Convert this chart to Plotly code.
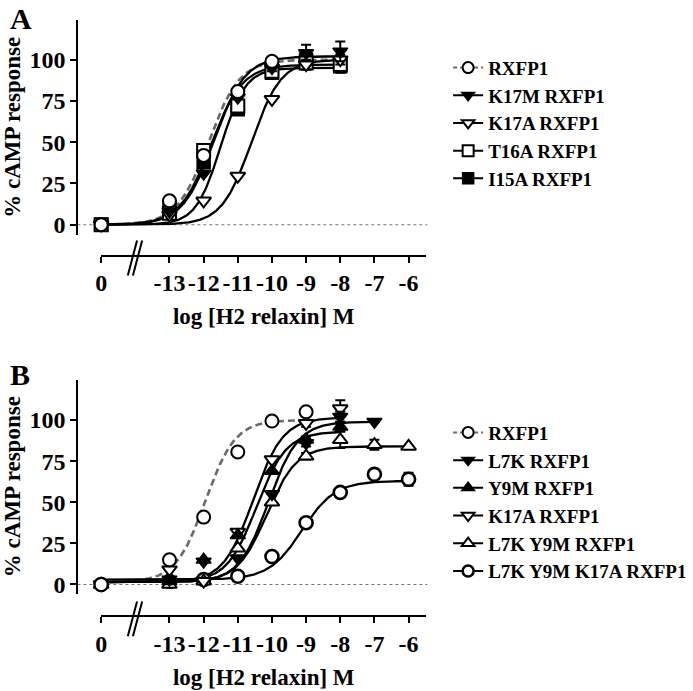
import numpy as np
import plotly.graph_objects as go

W, H = 693, 691
FONT = "Liberation Serif"

# ---------------- data ----------------
# The zero concentration is drawn at log position -15 (left of the axis break)
ZERO_POS = -15
tick_vals = [-15, -13, -12, -11, -10, -9, -8, -7, -6]
tick_text = ["0", "-13", "-12", "-11", "-10", "-9", "-8", "-7", "-6"]
y_tick_vals = [0, 25, 50, 75, 100]

# Panel A
a_names = ["RXFP1", "K17M RXFP1", "K17A RXFP1", "T16A RXFP1", "I15A RXFP1"]
a_x = [ZERO_POS, -13, -12, -11, -10, -9, -8]
a_x_rxfp1 = [ZERO_POS, -13, -12, -11, -10]
a_rxfp1 = [0, 14.5, 42, 80.7, 99]
a_k17m = [0, 8, 31, 77, 95, 104, 105]
a_k17a = [0, 6, 14.5, 29.5, 76, 97, 100]
a_t16a = [0, 7, 45, 72, 93, 98, 97]
a_i15a = [0, 10, 38, 70, 92, 100, 96]
a_err_rxfp1 = [0, 0, 0, 0, 0]
a_err_k17m = [0, 0, 0, 0, 2, 5, 6]
a_err_k17a = [0, 0, 0, 0, 0, 3, 3]
a_err_t16a = [0, 0, 0, 0, 2, 4, 4]
a_err_i15a = [0, 0, 0, 2, 2, 4, 4]
# fitted sigmoid parameters
a_fit_bottom = [0, 0, 0, 0, 0]
a_fit_top = [100, 102, 100, 97, 95]
a_fit_logec50 = [-11.86, -11.7, -10.6, -11.78, -11.5]
a_fit_hill = [0.95, 0.95, 1.0, 0.95, 1.2]
a_fit_end = [-8, -8, -8, -8, -8]

# Panel B
b_names = ["RXFP1", "L7K RXFP1", "Y9M RXFP1", "K17A RXFP1", "L7K Y9M RXFP1",
           "L7K Y9M K17A RXFP1"]
b_x_rxfp1 = [ZERO_POS, -13, -12, -11, -10, -9]
b_rxfp1 = [0, 15, 41, 80.6, 99.4, 105]
b_x_l7k = [ZERO_POS, -13, -12, -11, -10, -9, -8, -7]
b_l7k = [0, 3, 14, 16, 55, 86, 102, 99]
b_x_y9m = [ZERO_POS, -13, -12, -11, -10, -9, -8]
b_y9m = [0, 2, 15, 30, 69, 88, 96]
b_x_k17a = [ZERO_POS, -13, -12, -11, -10, -9, -8]
b_k17a = [0, 9, 2, 32, 76, 98, 107]
b_x_l7ky9m = [ZERO_POS, -13, -12, -11, -10, -9, -8, -7, -6]
b_l7ky9m = [0, 0, 2, 22, 50, 78, 88, 85, 84]
b_x_l7ky9mk17a = [ZERO_POS, -13, -12, -11, -10, -9, -8, -7, -6]
b_l7ky9mk17a = [0, 2, 3, 5, 17, 37.6, 56, 67, 64]
b_err_rxfp1 = [0, 0, 0, 0, 0, 0]
b_err_l7k = [0, 0, 0, 0, 0, 2, 3, 0]
b_err_y9m = [0, 0, 0, 0, 0, 2, 3]
b_err_k17a = [0, 0, 0, 0, 0, 2, 5]
b_err_l7ky9m = [0, 0, 0, 0, 0, 2, 5, 3, 0]
b_err_l7ky9mk17a = [0, 0, 0, 0, 0, 0, 0, 0, 4]
b_fit_bottom = [1.5, 1.5, 1.5, 1.5, 1.5, 3]
b_fit_top = [100, 99, 93, 101.5, 84, 63]
b_fit_logec50 = [-11.95, -10.1, -10.45, -10.55, -10.15, -9.12]
b_fit_hill = [1.0, 1.0, 1.0, 1.0, 1.0, 0.9]
b_fit_end = [-9, -7, -8, -8, -6, -6]

# ---------------- styles ----------------
a_styles = [
    dict(symbol="circle", fill="white", lw=2, dash="dash", color="#6a6a6a"),
    dict(symbol="triangle-down", fill="black", lw=1.5, dash="solid", color="black"),
    dict(symbol="triangle-down", fill="white", lw=2, dash="solid", color="black"),
    dict(symbol="square", fill="white", lw=2, dash="solid", color="black"),
    dict(symbol="square", fill="black", lw=1.5, dash="solid", color="black"),
]
b_styles = [
    dict(symbol="circle", fill="white", lw=2, dash="dash", color="#6a6a6a"),
    dict(symbol="triangle-down", fill="black", lw=1.5, dash="solid", color="black"),
    dict(symbol="triangle-up", fill="black", lw=1.5, dash="solid", color="black"),
    dict(symbol="triangle-down", fill="white", lw=2, dash="solid", color="black"),
    dict(symbol="triangle-up", fill="white", lw=2, dash="solid", color="black"),
    dict(symbol="circle", fill="white", lw=2.6, dash="solid", color="black"),
]


def hill_curve(bottom, top, logec50, hill, x_end):
    xs = np.linspace(ZERO_POS, x_end, 300)
    ys = bottom + (top - bottom) / (1 + 10 ** ((logec50 - xs) * hill))
    return xs, ys


def px_x(p):
    return p / W


def px_y(p):
    return 1 - p / H


fig = go.Figure()

panels = [
    dict(names=a_names, xs=[a_x_rxfp1, a_x, a_x, a_x, a_x],
         vals=[a_rxfp1, a_k17m, a_k17a, a_t16a, a_i15a],
         errs=[a_err_rxfp1, a_err_k17m, a_err_k17a, a_err_t16a, a_err_i15a],
         fits=list(zip(a_fit_bottom, a_fit_top, a_fit_logec50, a_fit_hill, a_fit_end)),
         styles=a_styles, xa="x", ya="y", legend="legend"),
    dict(names=b_names,
         xs=[b_x_rxfp1, b_x_l7k, b_x_y9m, b_x_k17a, b_x_l7ky9m, b_x_l7ky9mk17a],
         vals=[b_rxfp1, b_l7k, b_y9m, b_k17a, b_l7ky9m, b_l7ky9mk17a],
         errs=[b_err_rxfp1, b_err_l7k, b_err_y9m, b_err_k17a, b_err_l7ky9m, b_err_l7ky9mk17a],
         fits=list(zip(b_fit_bottom, b_fit_top, b_fit_logec50, b_fit_hill, b_fit_end)),
         styles=b_styles, xa="x2", ya="y2", legend="legend2"),
]

for p in panels:
    n = len(p["names"])
    # fitted curves
    for i in range(n):
        st = p["styles"][i]
        cx, cy = hill_curve(*p["fits"][i])
        dashed = st["dash"] == "dash"
        fig.add_trace(go.Scatter(
            x=cx, y=cy, mode="lines", xaxis=p["xa"], yaxis=p["ya"], showlegend=False,
            line=dict(color=st["color"], width=2.6 if dashed else 2.3,
                      dash="7px,4px" if dashed else "solid"),
            hoverinfo="skip", cliponaxis=False))
    # data points (reverse order so RXFP1 sits on top)
    for i in reversed(range(n)):
        st = p["styles"][i]
        fig.add_trace(go.Scatter(
            x=p["xs"][i], y=p["vals"][i], mode="markers", xaxis=p["xa"], yaxis=p["ya"],
            showlegend=False, name=p["names"][i], cliponaxis=False,
            error_y=dict(type="data", array=p["errs"][i], color="black",
                         thickness=2, width=5),
            marker=dict(symbol=st["symbol"], size=13, color=st["fill"],
                        line=dict(color="black", width=st["lw"]))))
    # legend entries showing line + marker
    for i in range(n):
        st = p["styles"][i]
        dashed = st["dash"] == "dash"
        fig.add_trace(go.Scatter(
            x=[None], y=[None], mode="lines+markers", xaxis=p["xa"], yaxis=p["ya"],
            name=p["names"][i], legend=p["legend"],
            line=dict(color=st["color"], width=2,
                      dash="4px,3px" if dashed else "solid"),
            marker=dict(symbol=st["symbol"], size=11, color=st["fill"],
                        line=dict(color="black", width=st["lw"]))))

tickfont = dict(family=FONT, size=24, color="black", weight="bold")
titlefont = dict(family=FONT, size=23, color="black", weight="bold")

xcommon = dict(range=[-15, -5.48], domain=[px_x(96), px_x(424)], anchor="free",
               tickmode="array", tickvals=tick_vals, ticktext=tick_text,
               showline=True, linecolor="black", linewidth=2, ticks="outside",
               ticklen=6, tickwidth=2, tickcolor="black", showgrid=False,
               zeroline=False, tickfont=tickfont,
               title=dict(text="log [H2 relaxin] M", font=titlefont, standoff=12))
ycommon = dict(anchor="free", position=px_x(72), tickmode="array", tickvals=y_tick_vals,
               showline=True, linecolor="black", linewidth=2, ticks="outside",
               ticklen=6, tickwidth=2, tickcolor="black", showgrid=False,
               zeroline=False, tickfont=tickfont,
               title=dict(text="% cAMP response", font=titlefont, standoff=3))

fig.update_layout(
    width=W, height=H, margin=dict(l=0, r=0, t=0, b=0),
    paper_bgcolor="white", plot_bgcolor="white",
    xaxis=dict(**xcommon, position=px_y(257)),
    yaxis=dict(**ycommon, range=[-6, 124.1], domain=[px_y(236), px_y(20)]),
    xaxis2=dict(**xcommon, position=px_y(620)),
    yaxis2=dict(**ycommon, range=[-5.5, 124.5], domain=[px_y(597), px_y(382)]),
    legend=dict(x=px_x(446), y=px_y(49), xanchor="left", yanchor="top",
                font=dict(family=FONT, size=19, color="black", weight="bold"),
                bgcolor="rgba(0,0,0,0)"),
    legend2=dict(x=px_x(446), y=px_y(416), xanchor="left", yanchor="top",
                 font=dict(family=FONT, size=19, color="black", weight="bold"),
                 bgcolor="rgba(0,0,0,0)"),
    showlegend=True,
)

shapes = []
# dotted baseline at 0
for yref in ["y", "y2"]:
    shapes.append(dict(type="line", xref="paper", yref=yref, x0=px_x(72), x1=px_x(425),
                       y0=0, y1=0, layer="below",
                       line=dict(color="#777777", width=1.2, dash="dot")))
# axis-break marks
for xref, axis_y in [("x", 257), ("x2", 620)]:
    for off in [0, 0.15]:
        shapes.append(dict(type="line", xref=xref, yref="paper",
                           x0=-14.22 + off, x1=-13.95 + off,
                           y0=px_y(axis_y + 20), y1=px_y(axis_y - 15),
                           line=dict(color="black", width=2)))
fig.update_layout(shapes=shapes)

fig.add_annotation(text="A", x=px_x(2), y=px_y(0), xref="paper", yref="paper",
                   xanchor="left", yanchor="top", showarrow=False,
                   font=dict(family=FONT, size=30, color="black", weight="bold"))
fig.add_annotation(text="B", x=px_x(2), y=px_y(358), xref="paper", yref="paper",
                   xanchor="left", yanchor="top", showarrow=False,
                   font=dict(family=FONT, size=30, color="black", weight="bold"))

fig.write_html("out.html", config={"displayModeBar": False},
               post_script="document.body.style.margin='0px';")
